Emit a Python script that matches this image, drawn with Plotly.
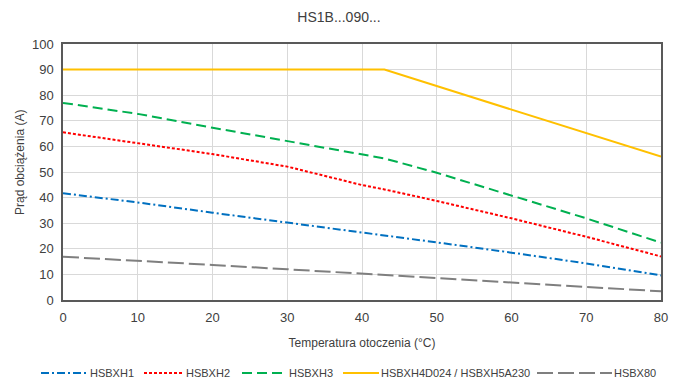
import plotly.graph_objects as go

# Temperature grid (°C) and load-current derating curves (A)
temp = [0, 10, 20, 30, 40, 43, 50, 60, 70, 80]
hsbxh1 = [41.7, 38.1, 34.1, 30.3, 26.4, 25.3, 22.5, 18.5, 14.3, 9.6]
hsbxh2 = [65.5, 61.2, 57.0, 52.1, 44.9, 43.2, 38.7, 31.9, 24.7, 17.0]
hsbxh3 = [77.0, 72.7, 67.3, 62.1, 57.0, 55.3, 49.7, 40.8, 31.9, 22.4]
hsbxh4_temp = [0, 43, 80]
hsbxh4 = [90.0, 90.0, 56.0]
hsbx80 = [16.9, 15.4, 13.7, 12.0, 10.3, 9.8, 8.6, 6.9, 5.2, 3.4]

series = [
    ("HSBXH1", temp, hsbxh1, "#0070C0", "8px,3px,2px,3px"),
    ("HSBXH2", temp, hsbxh2, "#FF0000", "3px,2px"),
    ("HSBXH3", temp, hsbxh3, "#00B050", "10px,5px"),
    ("HSBXH4D024 / HSBXH5A230", hsbxh4_temp, hsbxh4, "#FFC000", "solid"),
    ("HSBX80", temp, hsbx80, "#7F7F7F", "16px,5px"),
]

W, H = 678, 383
ML, MR, MT, MB = 63, 17, 44, 83
PW, PH = W - ML - MR, H - MT - MB

# Legend row below the chart: sample line extents in pixels
legend_row_y = 373
legend_samples = [(41, 88), (144, 184), (242, 287), (343, 379), (537, 612)]


def px_to_paper_x(px):
    return (px - ML) / PW


def px_to_paper_y(py):
    return (H - MB - py) / PH


font = "Liberation Sans, Arial, sans-serif"
text_color = "#404040"

fig = go.Figure()
for name, x, y, color, dash in series:
    fig.add_trace(go.Scatter(
        x=x, y=y, name=name, mode="lines",
        line=dict(color=color, width=2, dash=dash),
        showlegend=False,
    ))

shapes, annotations = [], []
ly = px_to_paper_y(legend_row_y)
for (name, _, _, color, dash), (x0, x1) in zip(series, legend_samples):
    shapes.append(dict(
        type="line", xref="paper", yref="paper",
        x0=px_to_paper_x(x0), x1=px_to_paper_x(x1), y0=ly, y1=ly,
        line=dict(color=color, width=2, dash=dash),
    ))
    annotations.append(dict(
        text=name, xref="paper", yref="paper",
        x=px_to_paper_x(x1), y=ly, xanchor="left", yanchor="middle",
        showarrow=False, font=dict(family=font, size=11, color=text_color),
    ))

# Vertical axis title
annotations.append(dict(
    text="Prąd obciążenia (A)", xref="paper", yref="paper",
    x=px_to_paper_x(20), y=px_to_paper_y(163), xanchor="center", yanchor="middle",
    textangle=-90, showarrow=False, font=dict(family=font, size=12, color=text_color),
))

fig.update_layout(
    width=W, height=H,
    margin=dict(l=ML, r=MR, t=MT, b=MB, autoexpand=False),
    paper_bgcolor="white", plot_bgcolor="white",
    font=dict(family=font, size=13, color=text_color),
    title=dict(text="HS1B...090...", x=0.5, xanchor="center", y=1 - 17 / H, yanchor="middle",
               font=dict(family=font, size=14, color=text_color)),
    showlegend=False,
    shapes=shapes,
    annotations=annotations,
)
fig.update_xaxes(
    range=[0, 80], dtick=10, tick0=0,
    showgrid=True, gridcolor="#D9D9D9", gridwidth=1,
    showline=True, linecolor="#595959", linewidth=1.5, mirror=True,
    ticks="outside", ticklen=5, tickcolor="rgba(0,0,0,0)",
    tickfont=dict(family=font, size=13, color=text_color),
    zeroline=False,
    title=dict(text="Temperatura otoczenia (°C)", font=dict(family=font, size=12, color=text_color), standoff=14),
)
fig.update_yaxes(
    range=[0, 100], dtick=10, tick0=0,
    showgrid=True, gridcolor="#D9D9D9", gridwidth=1,
    showline=True, linecolor="#595959", linewidth=1.5, mirror=True,
    ticks="outside", ticklen=5, tickcolor="rgba(0,0,0,0)",
    tickfont=dict(family=font, size=13, color=text_color),
    zeroline=False,
)

fig.write_html("out.html")
